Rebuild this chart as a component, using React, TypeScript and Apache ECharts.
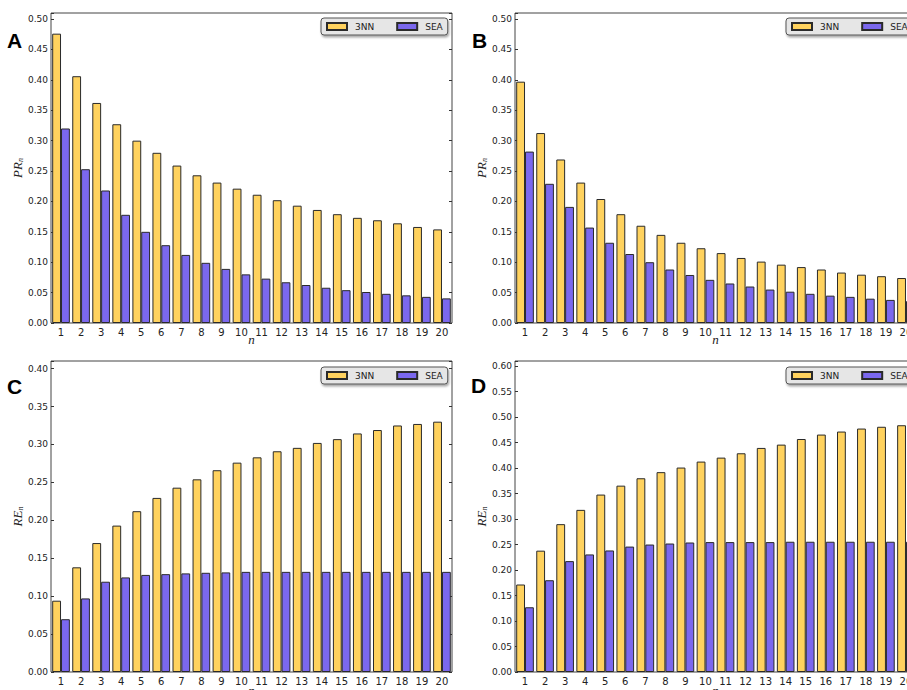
import React, { useEffect, useRef } from "react";
import * as echarts from "echarts";

const categories = ["1","2","3","4","5","6","7","8","9","10","11","12","13","14","15","16","17","18","19","20"];

// Panel A: PR_n
const a3NN = [0.476,0.406,0.362,0.327,0.300,0.280,0.259,0.243,0.231,0.221,0.211,0.202,0.193,0.186,0.179,0.173,0.169,0.164,0.158,0.154];
const aSEA = [0.320,0.253,0.218,0.178,0.150,0.128,0.112,0.099,0.089,0.080,0.073,0.067,0.0625,0.058,0.054,0.051,0.048,0.0455,0.043,0.0405];
// Panel B: PR_n
const b3NN = [0.397,0.3125,0.269,0.231,0.204,0.179,0.160,0.145,0.132,0.123,0.115,0.107,0.101,0.096,0.092,0.088,0.083,0.0795,0.077,0.074];
const bSEA = [0.282,0.229,0.191,0.157,0.132,0.1135,0.100,0.088,0.079,0.071,0.065,0.060,0.055,0.0515,0.048,0.045,0.043,0.040,0.038,0.036];
// Panel C: RE_n
const c3NN = [0.094,0.138,0.170,0.193,0.212,0.2295,0.243,0.254,0.266,0.276,0.283,0.291,0.2955,0.302,0.307,0.3145,0.319,0.325,0.327,0.330];
const cSEA = [0.0696,0.097,0.119,0.1247,0.128,0.129,0.130,0.1308,0.1313,0.132,0.132,0.132,0.132,0.132,0.132,0.132,0.132,0.132,0.132,0.132];
// Panel D: RE_n
const d3NN = [0.1716,0.238,0.290,0.318,0.348,0.3655,0.380,0.392,0.401,0.4127,0.4205,0.429,0.4395,0.446,0.457,0.4657,0.4716,0.4775,0.481,0.484];
const dSEA = [0.127,0.180,0.2175,0.2306,0.2384,0.246,0.250,0.252,0.254,0.2548,0.2548,0.2548,0.2548,0.2555,0.2555,0.2555,0.2555,0.2555,0.2555,0.2555];

const panelLetters = ["A", "B", "C", "D"];
const yNames = ["PR", "PR", "RE", "RE"];
const yMax = [0.51, 0.51, 0.41, 0.61];
const seriesNames = ["3NN", "SEA"];

const YELLOW = "#FFD25E";
const BLUE = "#7B68EE";

export default function App() {
  const ref = useRef<HTMLDivElement>(null);
  useEffect(() => {
    if (!ref.current) return;
    const chart = echarts.init(ref.current, undefined, { renderer: "svg" });
    const grids = [
      { left: 51, top: 13, width: 401, height: 310 },
      { left: 515, top: 13, width: 401, height: 310 },
      { left: 51, top: 361, width: 401, height: 311 },
      { left: 515, top: 361, width: 401, height: 311 },
    ];
    const xNameGap = [10, 10, 12, 12];
    const legendPos = [
      { left: 321, top: 18 },
      { left: 786, top: 18 },
      { left: 321, top: 367 },
      { left: 786, top: 367 },
    ];
    const letterPos = [
      { x: 7, y: 40 },
      { x: 472, y: 40 },
      { x: 7, y: 386 },
      { x: 471, y: 385 },
    ];
    const data = [
      [a3NN, aSEA],
      [b3NN, bSEA],
      [c3NN, cSEA],
      [d3NN, dSEA],
    ];
    const tickFont = { fontFamily: "DejaVu Sans", fontSize: 9, color: "#222" };
    const xAxis: any[] = [];
    const yAxis: any[] = [];
    const series: any[] = [];
    grids.forEach((g, i) => {
      const max = yMax[i];
      xAxis.push({
        type: "category",
        gridIndex: i,
        data: categories,
        axisTick: { show: false },
        axisLine: { show: false },
        axisLabel: { ...tickFont, fontSize: 10, margin: 4 },
        name: "n",
        nameLocation: "middle",
        nameGap: xNameGap[i],
        nameMoveOverlap: false,
        nameTextStyle: { fontFamily: "Liberation Serif", fontStyle: "italic", fontSize: 13, color: "#222" },
      });
      yAxis.push({
        type: "value",
        gridIndex: i,
        min: 0,
        max,
        interval: 0.05,
        position: "left",
        axisLine: { show: false },
        axisTick: { show: true, inside: true, length: 3, lineStyle: { color: "#333" } },
        axisLabel: {
          ...tickFont,
          margin: 3,
          formatter: (v: number) => (v > max - 0.005 ? "" : v.toFixed(2)),
        },
        splitLine: { show: false },
        name: "{a|" + yNames[i] + "}{b|n}",
        nameLocation: "middle",
        nameRotate: 90,
        nameGap: 26,
        nameTextStyle: {
          rich: {
            a: { fontFamily: "Liberation Serif", fontStyle: "italic", fontSize: 13, color: "#222", lineHeight: 13 },
            b: { fontFamily: "Liberation Serif", fontStyle: "italic", fontSize: 8, color: "#222", lineHeight: 6, verticalAlign: "bottom" },
          },
        },
      });
      yAxis.push({
        type: "value",
        gridIndex: i,
        min: 0,
        max,
        interval: 0.05,
        position: "right",
        axisLine: { show: false },
        axisTick: { show: true, inside: true, length: 3, lineStyle: { color: "#333" } },
        axisLabel: { show: false },
        splitLine: { show: false },
      });
      [YELLOW, BLUE].forEach((c, k) => {
        series.push({
          type: "bar",
          name: seriesNames[k],
          xAxisIndex: i,
          yAxisIndex: 2 * i,
          data: data[i][k],
          barGap: "0%",
          barCategoryGap: "12%",
          itemStyle: { color: c, borderColor: "#2a2a2a", borderWidth: 1 },
          emphasis: { disabled: true },
        });
      });
    });
    const legend = legendPos.map((p) => ({
      left: p.left,
      top: p.top,
      width: 220,
      orient: "horizontal",
      data: seriesNames,
      icon: "rect",
      itemWidth: 20,
      itemHeight: 7,
      itemGap: 22,
      textStyle: { fontFamily: "DejaVu Sans", fontSize: 9, color: "#222", padding: [0, 0, 0, 3] },
      backgroundColor: "#e6e6e6",
      borderColor: "#555",
      borderWidth: 1,
      borderRadius: 3,
      padding: [4, 5, 4, 5],
      shadowColor: "rgba(0,0,0,0.35)",
      shadowBlur: 2,
      shadowOffsetX: 1,
      shadowOffsetY: 2,
      selectedMode: false,
    }));
    const graphic = panelLetters.map((t, i) => ({
      type: "text",
      x: letterPos[i].x,
      y: letterPos[i].y,
      style: {
        text: t,
        fontFamily: "Liberation Sans",
        fontWeight: "bold",
        fontSize: 21,
        fill: "#000",
        verticalAlign: "middle",
      },
    }));
    chart.setOption({
      animation: false,
      backgroundColor: "#fff",
      grid: grids.map((g) => ({
        ...g,
        show: true,
        borderColor: "#444",
        borderWidth: 1,
        backgroundColor: "transparent",
        containLabel: false,
        outerBoundsMode: "none",
      })),
      xAxis,
      yAxis,
      series,
      legend,
      graphic,
    });
    return () => chart.dispose();
  }, []);
  return (
    <div
      ref={ref}
      style={{ position: "absolute", left: 0, top: 0, width: 907, height: 690, overflow: "hidden" }}
    />
  );
}
